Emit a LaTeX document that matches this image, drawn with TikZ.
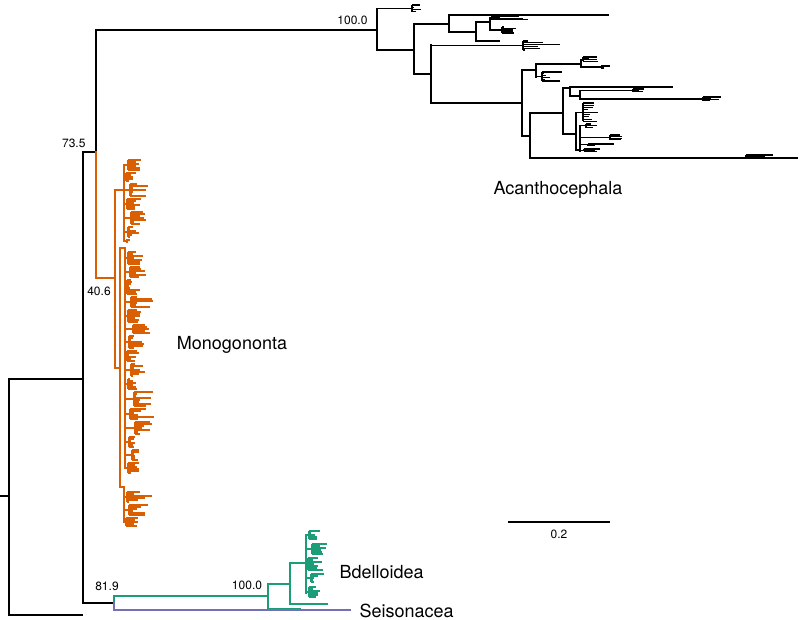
\documentclass[tikz,border=0pt]{standalone}
\usepackage{fontspec}
\setmainfont{TeX Gyre Heros}
\usepackage{tikz}
\usepackage{xcolor}

\definecolor{monoorange}{HTML}{D95F02}
\definecolor{bdelgruen}{HTML}{1B9E77}
\definecolor{seislila}{HTML}{7570B3}

% kleine Blattgruppe: Stamm-x, Versatz, y oben, Anzahl, Abstand, max. Laenge
\newcommand{\blaetter}[6]{%
  \pgfmathsetmacro\gx{#1+#2}%
  \pgfmathsetmacro\gyb{#3+(#4-1)*#5}%
  \pgfmathsetmacro\gym{(#3+\gyb)/2}%
  \draw (#1,\gym) -- (\gx,\gym);
  \draw (\gx,#3) -- (\gx,\gyb);
  \foreach \k in {1,...,#4}{%
    \pgfmathsetmacro\ty{#3+(\k-1)*#5}%
    \pgfmathsetmacro\tl{1.5+#6*rnd}%
    \draw (\gx,\ty) -- ++(\tl,0);
  }%
}

\begin{document}
\begin{tikzpicture}[x=1pt,y=-1pt,
    ast/.style={line width=1.7pt, line cap=rect},
    blatt/.style={line width=1.15pt},
    stuetz/.style={font=\fontsize{12}{14}\selectfont},
    gruppe/.style={font=\fontsize{18}{20}\selectfont}]
			\useasboundingbox (0,0) rectangle (800,620);
			\pgfmathsetseed{4711}
			
			% Wurzel und Rueckgrat
			\begin{scope}[ast]
				\draw (0,496) -- (9,496);
				\draw (9,379) -- (9,615);
				\draw (9,615) -- (82,615);
				\draw (9,379) -- (83,379);
				\draw (83,152) -- (83,603);
				\draw (83,603) -- (114,603);
				\draw (83,152) -- (96,152);
				\draw (96,30) -- (96,152);
			\end{scope}
			
			% Acanthocephala
			\begin{scope}[ast]
				\draw (96,30) -- (377,30);
				\draw (377,9) -- (377,50);
				\draw (377,50) -- (414,50);
				\draw (414,24) -- (414,74);
				\draw (414,24) -- (449,24);
				\draw (449,15) -- (449,32);
				\draw (449,15) -- (608,15);
				\draw (449,32) -- (476,32);
				\draw (476,22) -- (476,41);
				\draw (476,41) -- (499,41);
				\draw (476,22) -- (490,22);
				\draw (490,18) -- (490,30);
				\draw (414,74) -- (431,74);
				\draw (431,45) -- (431,103);
				\draw (431,103) -- (522,103);
				\draw (522,70) -- (522,136);
				\draw (522,70) -- (536,70);
				\draw (536,64) -- (536,77);
				\draw (536,64) -- (581,64);
				\draw (581,60) -- (581,67);
				\draw (522,136) -- (530,136);
				\draw (530,113) -- (530,158);
				\draw (530,158) -- (797,158);
				\draw (530,113) -- (563,113);
				\draw (563,88) -- (563,134);
				\draw (563,88) -- (570,88);
				\draw (570,87) -- (570,96);
				\draw (570,87) -- (672,87);
				\draw (570,96) -- (580,96);
				\draw (580,90.5) -- (580,99.5);
				\draw (563,134) -- (576,134);
				\draw (576,113) -- (576,150);
				\draw (576,150) -- (580,150);
				\draw (580,126) -- (580,151);
			\end{scope}
			\begin{scope}[blatt]
				\foreach \gv/\gw/\gy/\gn/\ga/\gl in {377/35/5/4/2.2/8, 490/2/16/4/1.3/40,
					490/12/27/5/1.5/14, 431/92/41/6/1.8/40, 581/2/57/4/1.4/14,
					581/20/66/2/2/16, 536/6/72/6/1.8/20, 746/0/155/4/1.1/26,
					580/53/89/3/1.3/10, 580/123/97/4/1.3/18, 576/7/103/9/2.3/14,
					580/6/124/3/1.8/10, 580/30/135/4/1.6/12, 580/8/144/2/1.8/40,
					580/4/149/3/1.1/28}
					{\blaetter{\gv}{\gw}{\gy}{\gn}{\ga}{\gl}}
			\end{scope}
			
			% Monogononta
			\begin{scope}[monoorange, ast]
				\draw (96,152) -- (96,278) -- (115,278);
				\draw (115,190) -- (115,368);
				\draw (115,190) -- (124,190);
				\draw (124,165) -- (124,241);
				\draw (115,368) -- (120,368);
				\draw (120,248) -- (120,487);
				\draw (120,248) -- (125,248);
				\draw (125,248) -- (125,468);
				\draw (120,487) -- (124,487);
				\draw (124,487) -- (124,522);
			\end{scope}
			\begin{scope}[monoorange, blatt]
				\foreach \gv/\gw/\gy/\gn/\gl in {124/4/160/6/18, 124/2/173/5/12,
					124/6/184/7/18, 124/3/199/6/14, 124/7/212/7/16, 124/4/227/6/12,
					124/2/240/2/8,
					125/3/252/7/14, 125/5/267/6/16, 125/2/280/8/12, 125/6/297/6/22,
					125/3/310/7/12, 125/8/325/5/16, 125/4/336/7/14, 125/2/351/6/12,
					125/6/364/7/14, 125/3/379/6/12, 125/9/392/8/18, 125/5/409/6/24,
					125/10/422/7/16, 125/4/437/6/12, 125/7/450/6/14, 125/3/463/6/10,
					124/3/492/6/26, 124/5/505/6/22, 124/2/518/5/12}
					{\blaetter{\gv}{\gw}{\gy}{\gn}{2}{\gl}}
			\end{scope}
			
			% Bdelloidea und Seisonacea
			\begin{scope}[bdelgruen, ast]
				\draw (114,596) -- (114,603);
				\draw (114,596) -- (268,596);
				\draw (268,584) -- (268,609);
				\draw (268,609) -- (300,609);
				\draw (268,584) -- (290,584);
				\draw (290,563) -- (290,604);
				\draw (290,604) -- (327,604);
				\draw (290,563) -- (306,563);
				\draw (306,535) -- (306,593);
			\end{scope}
			\begin{scope}[bdelgruen, blatt]
				\foreach \gw/\gy/\gn/\gl in {3/531/5/10, 6/544/6/14, 2/558/7/14,
					5/574/5/12, 3/587/6/10}
					{\blaetter{306}{\gw}{\gy}{\gn}{2}{\gl}}
			\end{scope}
			\begin{scope}[seislila, ast]
				\draw (114,603) -- (114,610);
				\draw (114,610) -- (350,610);
			\end{scope}
			
			% Massstab
			\draw[ast] (509,522) -- (609,522);
			\node[stuetz] (skala) at (559,534) {0.2};
			
			% Stuetzwerte
			\node[stuetz, anchor=east] (bs-acan) at (371,20) {100.0};
			\node[stuetz, anchor=east] (bs-mono) at (89,143) {73.5};
			\node[stuetz] (bs-innen) at (99,291) {40.6};
			\node[stuetz] (bs-bdsei) at (107,586) {81.9};
			\node[stuetz] (bs-bdel) at (247,585) {100.0};
			
			% Gruppennamen
			\node[gruppe] (acan) at (558,190) {Acanthocephala};
			\node[gruppe] (mono) at (232,345) {Monogononta};
			\node[gruppe, anchor=west] (bdel) at (336,572) {Bdelloidea};
			\node[gruppe, anchor=west] (seis) at (356,611) {Seisonacea};
	\end{tikzpicture}
\end{document}
